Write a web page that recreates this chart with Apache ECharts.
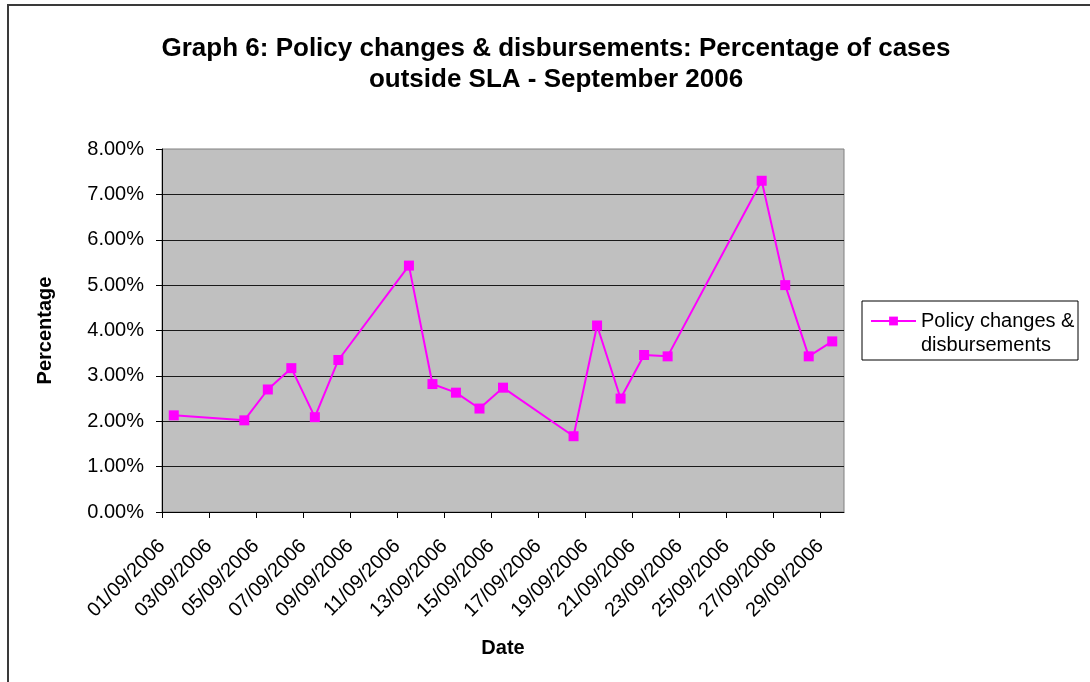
<!DOCTYPE html>
<html>
<head>
<meta charset="utf-8">
<title>Graph 6: Policy changes &amp; disbursements</title>
<script src="https://cdn.jsdelivr.net/npm/echarts@6/dist/echarts.min.js"></script>
<style>
  html, body { margin: 0; padding: 0; background: #fff; }
  #chart { width: 1090px; height: 682px; }
</style>
</head>
<body>
<div id="chart"></div>
<script>
// Daily percentage of policy change & disbursement cases outside SLA, September 2006
const seriesName = 'Policy changes & disbursements';
const dates = [
  '01/09/2006', '04/09/2006', '05/09/2006', '06/09/2006', '07/09/2006', '08/09/2006',
  '11/09/2006', '12/09/2006', '13/09/2006', '14/09/2006', '15/09/2006',
  '18/09/2006', '19/09/2006', '20/09/2006', '21/09/2006', '22/09/2006',
  '26/09/2006', '27/09/2006', '28/09/2006', '29/09/2006'
];
const values = [
  2.13, 2.02, 2.70, 3.17, 2.09, 3.35,
  5.43, 2.82, 2.63, 2.28, 2.74,
  1.67, 4.11, 2.50, 3.46, 3.43,
  7.30, 5.00, 3.43, 3.76
];
const xTickLabels = [
  '01/09/2006', '03/09/2006', '05/09/2006', '07/09/2006', '09/09/2006',
  '11/09/2006', '13/09/2006', '15/09/2006', '17/09/2006', '19/09/2006',
  '21/09/2006', '23/09/2006', '25/09/2006', '27/09/2006', '29/09/2006'
];
const yTickValues = [0, 1, 2, 3, 4, 5, 6, 7, 8];

const FONT = 'Arial, "Liberation Sans", Helvetica, sans-serif';

// The date axis counts days from 1 September; each day owns a one-day slot
// and its point sits in the middle of that slot.
const dayOffset = d => parseInt(d.slice(0, 2), 10) - 1;
const points = dates.map((d, i) => [dayOffset(d) + 0.5, values[i]]);
const tickPositions = xTickLabels.map(dayOffset);

const chart = echarts.init(document.getElementById('chart'), null, { renderer: 'canvas' });

chart.setOption({
  backgroundColor: '#ffffff',
  animation: false,
  textStyle: { fontFamily: FONT },
  title: {
    text: 'Graph 6: Policy changes & disbursements: Percentage of cases\noutside SLA - September 2006',
    left: 551,
    top: 28,
    textAlign: 'center',
    textStyle: {
      fontFamily: FONT,
      fontSize: 26,
      fontWeight: 'bold',
      lineHeight: 31,
      color: '#000'
    }
  },
  grid: {
    left: 162,
    right: 246,
    top: 149,
    bottom: 170,
    show: true,
    backgroundColor: '#C0C0C0',
    borderColor: '#808080',
    borderWidth: 1,
    containLabel: false
  },
  legend: {
    left: 870,
    top: 285,
    padding: 0,
    itemWidth: 45,
    itemHeight: 11,
    itemGap: 0,
    selectedMode: false,
    data: [seriesName],
    // leading blank line keeps the marker level with the first text line
    formatter: name => '\n' + name.replace('& ', '&\n'),
    textStyle: {
      fontFamily: FONT,
      fontSize: 20,
      lineHeight: 24,
      color: '#000'
    }
  },
  graphic: [
    {
      type: 'rect',
      z: -10,
      shape: { x: 8, y: 5, width: 1200, height: 800 },
      style: { fill: 'none', stroke: '#3a3a3a', lineWidth: 2 },
      silent: true
    },
    {
      type: 'rect',
      z: -5,
      shape: { x: 862, y: 301, width: 216, height: 59 },
      style: { fill: '#fff', stroke: '#000', lineWidth: 1 },
      silent: true
    }
  ],
  xAxis: {
    type: 'value',
    min: 0,
    max: 29,
    interval: 2,
    name: 'Date',
    nameLocation: 'middle',
    nameGap: 126,
    nameTextStyle: { fontFamily: FONT, fontSize: 20, fontWeight: 'bold', color: '#000' },
    axisLine: { show: true, lineStyle: { color: '#000', width: 1 } },
    axisTick: {
      show: true,
      inside: false,
      length: 6,
      customValues: tickPositions,
      lineStyle: { color: '#000', width: 1 }
    },
    axisLabel: {
      customValues: tickPositions,
      rotate: 45,
      margin: 31,
      fontFamily: FONT,
      fontSize: 20,
      color: '#000',
      formatter: v => xTickLabels[Math.round(v / 2)] || ''
    },
    splitLine: { show: false }
  },
  yAxis: {
    type: 'value',
    min: 0,
    max: 8,
    interval: 1,
    name: 'Percentage',
    nameLocation: 'middle',
    nameGap: 107,
    nameTextStyle: { fontFamily: FONT, fontSize: 20, fontWeight: 'bold', color: '#000' },
    axisLine: { show: true, lineStyle: { color: '#000', width: 1 } },
    axisTick: {
      show: true,
      inside: false,
      length: 6,
      customValues: yTickValues,
      lineStyle: { color: '#000', width: 1 }
    },
    axisLabel: {
      margin: 18,
      fontFamily: FONT,
      fontSize: 20,
      color: '#000',
      formatter: v => v.toFixed(2) + '%'
    },
    splitLine: {
      show: true,
      showMinLine: false,
      showMaxLine: false,
      lineStyle: { color: '#1a1a1a', width: 1 }
    }
  },
  series: [
    {
      name: seriesName,
      type: 'line',
      data: points,
      symbol: 'rect',
      symbolSize: 10,
      lineStyle: { color: '#FF00FF', width: 2 },
      itemStyle: { color: '#FF00FF' },
      emphasis: { disabled: true }
    }
  ]
});
</script>
</body>
</html>
